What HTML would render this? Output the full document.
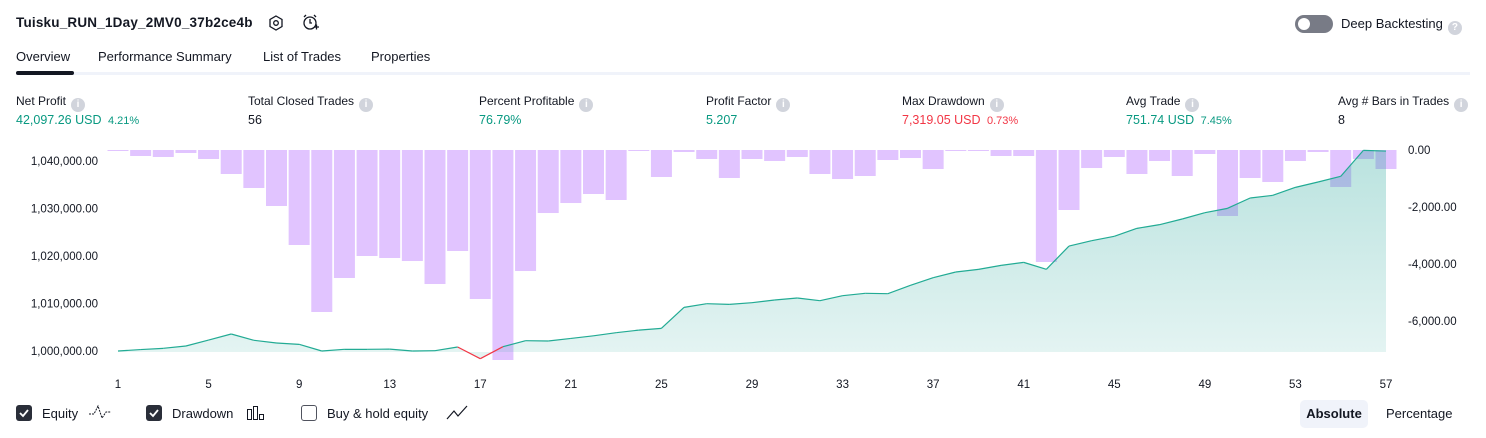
<!DOCTYPE html>
<html><head><meta charset="utf-8"><style>
body{margin:0;width:1486px;height:438px;background:#fff;font-family:"Liberation Sans",sans-serif;color:#131722;position:relative;overflow:hidden}
.a{position:absolute;white-space:nowrap}
.info{display:inline-block;width:14px;height:14px;border-radius:50%;background:#d1d4dc;color:#fff;font-size:10px;line-height:14px;text-align:center;font-weight:bold;vertical-align:-2px;margin-left:5px}
.lbl{font-size:12px;top:94px}
.val{font-size:12.5px;top:113px}
.g{color:#089981}.r{color:#f23645}
.cb{position:absolute;width:16px;height:16px;border-radius:3px;top:405px}
</style></head><body>
<div class="a" style="left:16px;top:15px;font-size:13.5px;font-weight:bold;letter-spacing:0.2px">Tuisku_RUN_1Day_2MV0_37b2ce4b</div>
<svg class="a" style="left:267px;top:14px" width="18" height="18"><polygon points="9,2 15,5.5 15,12.5 9,16 3,12.5 3,5.5" fill="none" stroke="#131722" stroke-width="1.3"/><circle cx="9" cy="9" r="2.3" fill="none" stroke="#131722" stroke-width="1.3"/></svg>
<svg class="a" style="left:301px;top:13px" width="20" height="20"><circle cx="9" cy="10" r="6" fill="none" stroke="#131722" stroke-width="1.3"/><path d="M9 6v4h2M3 4l2-2M15 4l-2-2M13 14h5M15.5 11.5v5" fill="none" stroke="#131722" stroke-width="1.3"/></svg>
<div class="a" style="left:1295px;top:15px;width:38px;height:18px;border-radius:9px;background:#787b86"><div style="position:absolute;left:3px;top:3px;width:12px;height:12px;border-radius:50%;background:#fff"></div></div>
<div class="a" style="left:1341px;top:16px;font-size:13px">Deep Backtesting<span class="info" style="font-size:10px">?</span></div>
<div class="a" style="left:16px;top:49px;font-size:13px">Overview</div>
<div class="a" style="left:98px;top:49px;font-size:13px">Performance Summary</div>
<div class="a" style="left:263px;top:49px;font-size:13px">List of Trades</div>
<div class="a" style="left:371px;top:49px;font-size:13px">Properties</div>
<div class="a" style="left:16px;top:72px;width:1454px;height:3px;background:#f0f3fa"></div>
<div class="a" style="left:16px;top:71px;width:58px;height:4px;border-radius:2px;background:#131722"></div>

<div class="a lbl" style="left:16px">Net Profit<span class="info">i</span></div>
<div class="a val g" style="left:16px">42,097.26 USD <span style="font-size:11px;margin-left:3px">4.21%</span></div>
<div class="a lbl" style="left:248px">Total Closed Trades<span class="info">i</span></div>
<div class="a val" style="left:248px">56</div>
<div class="a lbl" style="left:479px">Percent Profitable<span class="info">i</span></div>
<div class="a val g" style="left:479px">76.79%</div>
<div class="a lbl" style="left:706px">Profit Factor<span class="info">i</span></div>
<div class="a val g" style="left:706px">5.207</div>
<div class="a lbl" style="left:902px">Max Drawdown<span class="info">i</span></div>
<div class="a val r" style="left:902px">7,319.05 USD <span style="font-size:11px;margin-left:3px">0.73%</span></div>
<div class="a lbl" style="left:1126px">Avg Trade<span class="info">i</span></div>
<div class="a val g" style="left:1126px">751.74 USD <span style="font-size:11px;margin-left:3px">7.45%</span></div>
<div class="a lbl" style="left:1338px">Avg # Bars in Trades<span class="info">i</span></div>
<div class="a val" style="left:1338px">8</div>

<svg id="chart" class="a" style="left:0;top:0" width="1486" height="400">
<defs><linearGradient id="fillg" x1="0" y1="0" x2="0" y2="1"><stop offset="0" stop-color="#26a69a" stop-opacity="0.32"/><stop offset="1" stop-color="#26a69a" stop-opacity="0.12"/></linearGradient></defs>
<g id="bars"></g><g id="area"></g><g id="axes" font-size="11.5" fill="#131722"></g>
</svg>

<div class="cb" style="left:16px;background:#2a2e39"><svg width="16" height="16"><path d="M4 8l3 3 5-6" stroke="#fff" stroke-width="1.8" fill="none"/></svg></div>
<div class="a" style="left:42px;top:406px;font-size:13px">Equity</div>
<svg class="a" style="left:88px;top:403px" width="24" height="18"><path d="M1 11h5l4-8 4 12 4-6h5" stroke="#131722" stroke-width="1" fill="none" stroke-dasharray="2 1"/></svg>
<div class="cb" style="left:146px;background:#2a2e39"><svg width="16" height="16"><path d="M4 8l3 3 5-6" stroke="#fff" stroke-width="1.8" fill="none"/></svg></div>
<div class="a" style="left:172px;top:406px;font-size:13px">Drawdown</div>
<svg class="a" style="left:246px;top:405px" width="20" height="16"><rect x="1.5" y="4.5" width="4" height="10" fill="none" stroke="#131722"/><rect x="7.5" y="1.5" width="4" height="13" fill="none" stroke="#131722"/><rect x="13.5" y="9.5" width="4" height="5" fill="none" stroke="#131722"/></svg>
<div class="cb" style="left:301px;border:1.3px solid #50535e;box-sizing:border-box"></div>
<div class="a" style="left:327px;top:406px;font-size:13px">Buy &amp; hold equity</div>
<svg class="a" style="left:446px;top:404px" width="24" height="18"><path d="M1 15l7-8 4 5 9-10" stroke="#131722" stroke-width="1.2" fill="none"/></svg>
<div class="a" style="left:1300px;top:400px;width:68px;height:28px;border-radius:5px;background:#f0f3fa;font-size:13px;font-weight:bold;text-align:center;line-height:28px">Absolute</div>
<div class="a" style="left:1386px;top:406px;font-size:13px">Percentage</div>

<script>
const trades = Array.from({length:57},(_, i)=>i+1);
const equity = [1000000,1000300,1000560,1001050,1002300,1003580,1002250,1001680,1001400,1000000,1000350,1000350,1000400,1000000,1000070,1000840,998380,1000910,1002170,1002100,1002650,1003200,1003850,1004400,1004770,1009190,1009960,1009820,1010170,1010737,1011158,1010597,1011650,1012140,1012070,1013820,1015440,1016630,1017190,1018030,1018660,1017190,1022100,1023230,1024140,1025820,1026600,1027790,1029120,1030030,1032210,1032770,1034450,1035580,1036770,1042240,1042097];
const drawdown = [-35,-210,-245,-105,-316,-842,-1333,-1965,-3333,-5684,-4491,-3719,-3789,-3895,-4702,-3544,-5228,-7368,-4246,-2211,-1860,-1544,-1754,-35,-947,-70,-316,-982,-316,-386,-245,-842,-1018,-912,-351,-281,-667,-35,-35,-210,-210,-3930,-2105,-632,-245,-842,-386,-912,-140,-2316,-982,-1123,-386,-70,-1298,-316,-667];
const leftTicks = [1000000,1010000,1020000,1030000,1040000];
const rightTicks = [0,-2000,-4000,-6000];
const xTicks = [1,5,9,13,17,21,25,29,33,37,41,45,49,53,57];

const NS='http://www.w3.org/2000/svg';
const xS = t => 118 + (t-1)*(1386-118)/56;
const yL = v => 351 - (v-1000000)/10000*47.5;
const yR = v => 150 - v/2000*57;
function mk(tag, attrs, parent){const e=document.createElementNS(NS,tag);for(const k in attrs)e.setAttribute(k,attrs[k]);parent.appendChild(e);return e;}
const bars=document.getElementById('bars'), area=document.getElementById('area'), axes=document.getElementById('axes');
const bw=21;
drawdown.forEach((d,i)=>{
  const x=xS(trades[i]);
  const r=mk('rect',{x:x-bw/2,y:yR(0),width:bw,height:Math.max(1,yR(d)-yR(0)),fill:'#e1c4ff'},bars);
  
  
});
const base=yL(1000000)+1;
let d='M'+xS(1)+','+base;
equity.forEach((v,i)=>{d+=' L'+xS(trades[i]).toFixed(1)+','+yL(v).toFixed(1);});
d+=' L'+xS(trades[trades.length-1])+','+base+' Z';
const ar=mk('path',{d:d,fill:'url(#fillg)'},area);


for(let i=0;i<equity.length-1;i++){
  const x1=xS(trades[i]),x2=xS(trades[i+1]),y1=yL(equity[i]),y2=yL(equity[i+1]);
  const red=(equity[i]<1000000||equity[i+1]<1000000)&&!(equity[i]>=1000000&&equity[i+1]>=1000000);
  const ln=mk('line',{x1:x1,y1:y1,x2:x2,y2:y2,stroke:red?'#f23645':'#22ab94','stroke-width':1.2},area);
  
  
}
leftTicks.forEach(v=>{
  const t=mk('text',{x:98,y:yL(v)+4,'text-anchor':'end'},axes);
  t.textContent=v.toLocaleString('en-US',{minimumFractionDigits:2});
  
  
});
rightTicks.forEach(v=>{
  const t=mk('text',{x:1408,y:yR(v)+4},axes);
  t.textContent=v.toLocaleString('en-US',{minimumFractionDigits:2});
  
  
});
xTicks.forEach(v=>{
  const t=mk('text',{x:xS(v),y:388,'text-anchor':'middle'},axes);
  t.textContent=v;
  
  
});
</script>
</body></html>
